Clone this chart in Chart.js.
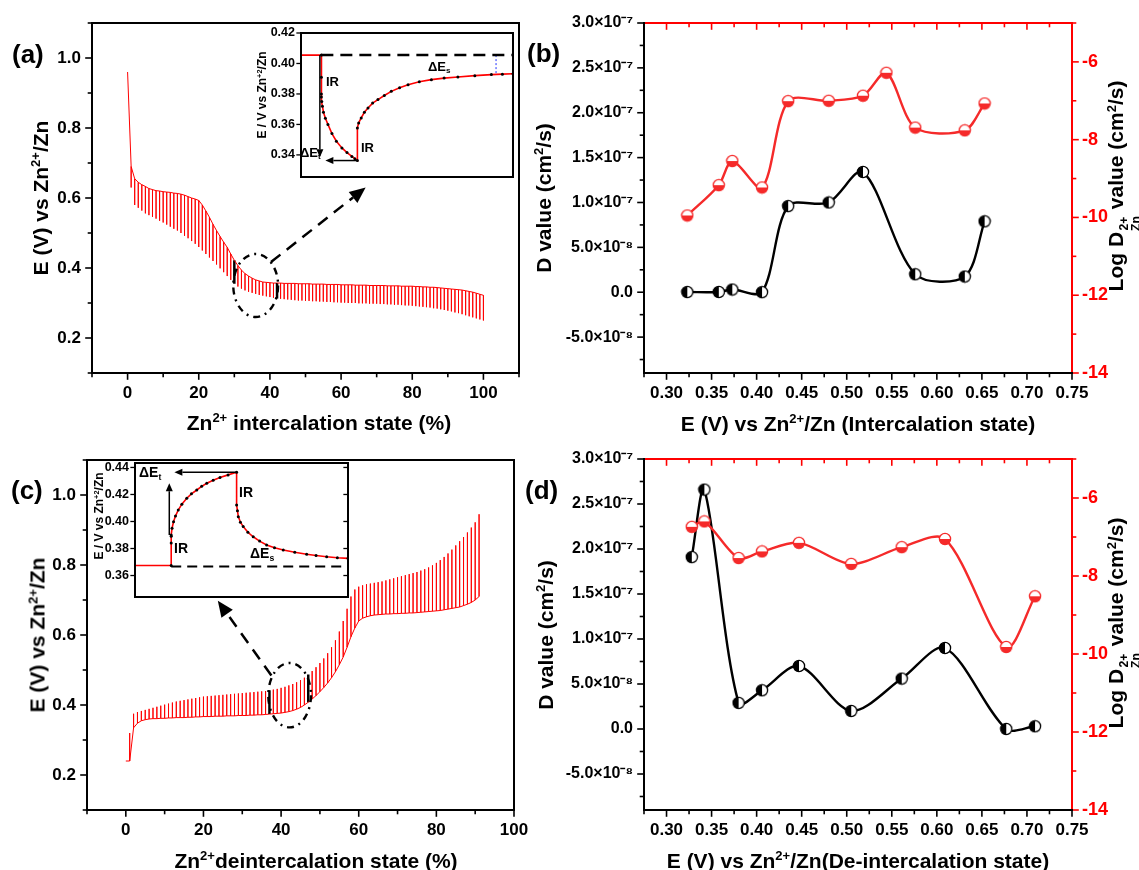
<!DOCTYPE html>
<html>
<head>
<meta charset="utf-8">
<script src="https://cdn.jsdelivr.net/npm/chart.js@4.4.1/dist/chart.umd.min.js"></script>
<style>
  body { margin:0; background:#fff; }
  #fig { position:relative; width:1139px; height:870px; overflow:hidden; background:#fff;
         font-family:"Liberation Sans", Arial, sans-serif; font-weight:bold; color:#000; }
  #fig canvas { position:absolute; }
  .t { position:absolute; white-space:nowrap; line-height:1; }
  .c { transform:translate(-50%,-50%); }
  .r { transform:translate(-50%,-50%) rotate(-90deg); }
  .t sup { font-size:62%; vertical-align:0.55em; line-height:0; }
  .t sub { font-size:62%; vertical-align:-0.3em; line-height:0; }
  .stk { display:inline-flex; flex-direction:column; align-items:center; font-size:58%;
         line-height:0.95; vertical-align:-0.45em; margin:0 1px; }
  .m { font-size:21px; } .p { font-size:26px; } .s { font-size:13px; } .s2 { font-size:14px; } .q { font-size:12px; }
</style>
</head>
<body>
<div id="fig">
  <canvas id="ca" style="left:0;top:0"     width="540" height="440"></canvas>
  <canvas id="cb" style="left:560px;top:0"   width="579" height="440"></canvas>
  <canvas id="cc" style="left:0;top:436px"   width="540" height="434"></canvas>
  <canvas id="cd" style="left:560px;top:436px" width="579" height="434"></canvas>
  <canvas id="ia" style="left:240px;top:25px"  width="285" height="160"></canvas>
  <canvas id="ic" style="left:75px;top:455px"  width="285" height="150"></canvas>

  <div class="t p" style="left:12px;top:41px">(a)</div>
  <div class="t p" style="left:527px;top:40px">(b)</div>
  <div class="t p" style="left:11px;top:477px">(c)</div>
  <div class="t p" style="left:525px;top:477px">(d)</div>

  <div class="t m r" style="left:40px;top:198px">E (V) vs Zn<sup>2+</sup>/Zn</div>
  <div class="t m c" style="left:319px;top:422px">Zn<sup>2+</sup> intercalation state (%)</div>
  <div class="t m r" style="left:543px;top:198px">D value (cm<sup>2</sup>/s)</div>
  <div class="t m r" style="left:1124px;top:186px">Log D<span class="stk"><span>2+</span><span>Zn</span></span> value (cm<sup>2</sup>/s)</div>
  <div class="t m c" style="left:858px;top:423px">E (V) vs Zn<sup>2+</sup>/Zn (Intercalation state)</div>

  <div class="t m r" style="left:37px;top:635px">E (V) vs Zn<sup>2+</sup>/Zn</div>
  <div class="t m c" style="left:316px;top:860px">Zn<sup>2+</sup>deintercalation state (%)</div>
  <div class="t m r" style="left:545px;top:635px">D value (cm<sup>2</sup>/s)</div>
  <div class="t m r" style="left:1124px;top:623px">Log D<span class="stk"><span>2+</span><span>Zn</span></span> value (cm<sup>2</sup>/s)</div>
  <div class="t m c" style="left:858px;top:860px">E (V) vs Zn<sup>2+</sup>/Zn(De-intercalation state)</div>

  <div class="t q r" style="left:262px;top:95px">E / V vs Zn<sup>+2</sup>/Zn</div>
  <div class="t s" style="left:326px;top:75px">IR</div>
  <div class="t s" style="left:361px;top:141px">IR</div>
  <div class="t s" style="left:300px;top:146px">ΔE<sub>t</sub></div>
  <div class="t s" style="left:428px;top:60px">ΔE<sub>s</sub></div>

  <div class="t q r" style="left:99px;top:516px">E / V vs Zn<sup>+2</sup>/Zn</div>
  <div class="t s2" style="left:139px;top:465px">ΔE<sub>t</sub></div>
  <div class="t s2" style="left:239px;top:485px">IR</div>
  <div class="t s2" style="left:174px;top:541px">IR</div>
  <div class="t s2" style="left:250px;top:546px">ΔE<sub>s</sub></div>
</div>

<script>
/* ────────────────────────────────────────
   DATA
──────────────────────────────────────── */
// (a) GITT intercalation: relaxed potential at each step, potential at end of each pulse
const stepA  = 1;
const relaxA = [0.96,
  0.69, 0.655, 0.645, 0.638, 0.633, 0.627, 0.624, 0.621, 0.62, 0.618,
  0.617, 0.616, 0.614, 0.613, 0.611, 0.608, 0.604, 0.6, 0.597, 0.593,
  0.58, 0.563, 0.545, 0.525, 0.507, 0.49, 0.474, 0.459, 0.44, 0.422,
  0.407, 0.394, 0.384, 0.377, 0.371, 0.366, 0.363, 0.36, 0.359, 0.358,
  0.357, 0.357, 0.357, 0.356, 0.356, 0.356, 0.356, 0.355, 0.355, 0.355,
  0.355, 0.354, 0.354, 0.354, 0.354, 0.353, 0.353, 0.353, 0.353, 0.352,
  0.352, 0.352, 0.352, 0.351, 0.351, 0.351, 0.351, 0.350, 0.350, 0.350,
  0.350, 0.350, 0.349, 0.349, 0.349, 0.349, 0.348, 0.348, 0.348, 0.348,
  0.347, 0.347, 0.346, 0.346, 0.345, 0.345, 0.344, 0.343, 0.342, 0.341,
  0.340, 0.339, 0.338, 0.337, 0.335, 0.333, 0.331, 0.328, 0.325, 0.322];
const pulseA = [
  0.63, 0.58, 0.572, 0.564, 0.556, 0.551, 0.546, 0.541, 0.535, 0.53,
  0.524, 0.518, 0.512, 0.507, 0.5, 0.492, 0.485, 0.477, 0.469, 0.46,
  0.45, 0.44, 0.43, 0.42, 0.41, 0.399, 0.388, 0.377, 0.366, 0.355,
  0.347, 0.341, 0.336, 0.332, 0.329, 0.326, 0.323, 0.321, 0.319, 0.317,
  0.315, 0.313, 0.312, 0.311, 0.310, 0.309, 0.308, 0.307, 0.307, 0.306,
  0.306, 0.305, 0.305, 0.304, 0.304, 0.303, 0.303, 0.302, 0.302, 0.301,
  0.301, 0.300, 0.300, 0.300, 0.299, 0.299, 0.299, 0.298, 0.298, 0.298,
  0.297, 0.297, 0.296, 0.296, 0.295, 0.295, 0.294, 0.293, 0.293, 0.292,
  0.291, 0.290, 0.289, 0.288, 0.287, 0.285, 0.284, 0.282, 0.280, 0.278,
  0.276, 0.273, 0.271, 0.268, 0.265, 0.262, 0.259, 0.256, 0.253, 0.250];
const markedA = [30, 42];

// (c) GITT de-intercalation
const stepC  = 1;
const relaxC = [0.24,
  0.24, 0.335, 0.348, 0.355, 0.358, 0.36, 0.361, 0.361, 0.362, 0.362,
  0.363, 0.363, 0.364, 0.364, 0.364, 0.365, 0.365, 0.366, 0.366, 0.367,
  0.367, 0.367, 0.368, 0.368, 0.368, 0.369, 0.369, 0.369, 0.370, 0.370,
  0.370, 0.371, 0.371, 0.372, 0.372, 0.373, 0.374, 0.375, 0.376, 0.377,
  0.379, 0.381, 0.384, 0.388, 0.393, 0.400, 0.408, 0.417, 0.427, 0.438,
  0.450, 0.463, 0.478, 0.495, 0.515, 0.537, 0.565, 0.595, 0.620, 0.640,
  0.648, 0.652, 0.655, 0.657, 0.658, 0.659, 0.660, 0.660, 0.661, 0.661,
  0.662, 0.662, 0.663, 0.663, 0.664, 0.665, 0.666, 0.667, 0.668, 0.669,
  0.670, 0.672, 0.674, 0.676, 0.678, 0.680, 0.684, 0.688, 0.693, 0.700, 0.710];
const pulseC = [
  0.32, 0.375, 0.38, 0.383, 0.386, 0.389, 0.392, 0.395, 0.398, 0.401,
  0.404, 0.407, 0.410, 0.412, 0.414, 0.416, 0.418, 0.420, 0.422, 0.424,
  0.425, 0.426, 0.427, 0.428, 0.429, 0.430, 0.431, 0.432, 0.433, 0.434,
  0.435, 0.436, 0.437, 0.438, 0.439, 0.440, 0.442, 0.444, 0.446, 0.449,
  0.452, 0.456, 0.460, 0.465, 0.471, 0.478, 0.487, 0.497, 0.508, 0.520,
  0.533, 0.548, 0.565, 0.585, 0.610, 0.640, 0.675, 0.710, 0.730, 0.738,
  0.742, 0.745, 0.747, 0.749, 0.751, 0.753, 0.756, 0.759, 0.762, 0.765,
  0.768, 0.771, 0.774, 0.777, 0.780, 0.784, 0.788, 0.793, 0.799, 0.806,
  0.814, 0.823, 0.833, 0.844, 0.856, 0.868, 0.880, 0.893, 0.907, 0.922, 0.945];
const markedC = [37, 47];

// insets: one titration (time in % of window, potential in V)
const insetA_t = [0, 9.6, 9.6, 9.6, 9.6, 9.8, 10.1, 10.6, 11.5, 12.7, 14.6, 16.7, 19.3, 21.7, 24.0, 25.4,
  26.6, 26.6, 27.2, 28.4, 29.9, 31.6, 33.8, 36.3, 39.3, 42.6, 46.5, 50.5, 55.8, 61.5, 67.5, 74.0, 82.0, 89.8, 95.0, 100];
const insetA_E = [0.4055, 0.4055, 0.391, 0.380, 0.378, 0.375, 0.372, 0.368, 0.364, 0.360, 0.354, 0.349, 0.3446, 0.3415, 0.339, 0.3375,
  0.3363, 0.3577, 0.361, 0.3643, 0.368, 0.3708, 0.374, 0.3763, 0.379, 0.3817, 0.384, 0.3861, 0.388, 0.3894, 0.3904, 0.3911, 0.392, 0.3927, 0.393, 0.3933];
const esA = [92, 0.3928];

const insetC_t = [0, 17.0, 17.0, 17.0, 17.0, 17.4, 18.1, 19.0, 20.3, 22.0, 24.3, 26.5, 29.0, 31.3, 33.7, 36.7, 39.9, 43.7,
  47.7, 47.7, 48.1, 48.5, 49.5, 50.8, 53.0, 55.5, 58.5, 61.8, 65.5, 69.6, 75.0, 80.6, 85.0, 90.0, 95.0, 100];
const insetC_E = [0.3674, 0.3674, 0.3840, 0.3890, 0.3900, 0.3950, 0.3999, 0.4040, 0.4085, 0.4128, 0.4172, 0.4205, 0.4233, 0.4260, 0.4283, 0.4305, 0.4325, 0.4345,
  0.4364, 0.4122, 0.4080, 0.4036, 0.3995, 0.3962, 0.3920, 0.3887, 0.3855, 0.3826, 0.3806, 0.3789, 0.3772, 0.3757, 0.3748, 0.3739, 0.3732, 0.3727];

// (b) diffusion coefficient, intercalation
const eB_D   = [0.323, 0.358, 0.373, 0.406, 0.435, 0.480, 0.518, 0.576, 0.631, 0.653];
const dB     = [2e-10, 3e-10, 3e-9, 1e-10, 9.6e-8, 1.0e-7, 1.34e-7, 2.0e-8, 1.75e-8, 7.9e-8];
const eB_log = [0.323, 0.358, 0.373, 0.406, 0.435, 0.480, 0.518, 0.544, 0.576, 0.631, 0.653];
const logB   = [-9.95, -9.17, -8.55, -9.23, -7.01, -7.0, -6.87, -6.28, -7.69, -7.76, -7.07];

// (d) diffusion coefficient, de-intercalation
const eD   = [0.328, 0.342, 0.380, 0.406, 0.447, 0.505, 0.561, 0.609, 0.677, 0.709];
const dD   = [1.91e-7, 2.66e-7, 2.9e-8, 4.3e-8, 7.0e-8, 2.0e-8, 5.6e-8, 9.0e-8, 0, 3e-9];
const logD = [-6.74, -6.6, -7.54, -7.37, -7.15, -7.69, -7.26, -7.05, -9.82, -8.52];

// tick labels
const ticksStateA = [0, 20, 40, 60, 80, 100];
const ticksE      = [0.2, 0.4, 0.6, 0.8, 1.0];
const ticksV      = [0.30, 0.35, 0.40, 0.45, 0.50, 0.55, 0.60, 0.65, 0.70, 0.75];
const ticksDval   = [-5e-8, 0, 5e-8, 1e-7, 1.5e-7, 2e-7, 2.5e-7, 3e-7];
const ticksLog    = [-14, -12, -10, -8, -6];
const ticksInA    = [0.34, 0.36, 0.38, 0.40, 0.42];
const ticksInC    = [0.36, 0.38, 0.40, 0.42, 0.44];

/* ────────────────────────────────────────
   HELPERS
──────────────────────────────────────── */
const RED  = '#ff0000';
const RED2 = '#f52a2a';
Chart.defaults.font.family = '"Liberation Sans", Arial, sans-serif';
Chart.defaults.font.weight = 'bold';
Chart.defaults.color       = '#000';
Chart.defaults.animation   = false;
Chart.defaults.plugins.legend.display  = false;
Chart.defaults.plugins.tooltip.enabled = false;

const SUP = { '-':'⁻','0':'⁰','1':'¹','2':'²','3':'³','4':'⁴','5':'⁵','6':'⁶','7':'⁷','8':'⁸','9':'⁹' };
const sci = v => {
  if (Math.abs(v) < 1e-15) return '0.0';
  const e = Math.floor(Math.log10(Math.abs(v)) + 1e-9);
  return (v / 10 ** e).toFixed(1) + '×10' + String(e).split('').map(c => SUP[c]).join('');
};

function lin(min, max, list, fmt, fit, o = {}) {
  return {
    type:'linear', min, max, bounds:'data', position:o.position, display:o.display ?? true,
    grid:{ display:false, drawTicks:false }, border:{ display:false },
    ticks:{ font:{ size:o.size || 17, weight:'bold' }, color:o.color || '#000',
            padding:o.pad ?? 10, callback:fmt, maxRotation:0, autoSkip:false },
    afterBuildTicks: s => { s.ticks = list.map(v => ({ value:v })); },
    afterFit: s => {
      if (s.isHorizontal()) { s.height = fit; s.paddingLeft = s.paddingRight = 0; }
      else                  { s.width  = fit; s.paddingTop  = s.paddingBottom = 0; }
    },
  };
}

function minorOf(major, lo, hi) {
  if (major.length < 2) return [];
  const step = major[1] - major[0], eps = Math.abs(step) * 1e-6, out = [];
  [major[0] - step, ...major].forEach(v => {
    const m = v + step / 2;
    if (m >= lo - eps && m <= hi + eps) out.push(m);
  });
  return out;
}

// frame lines + outward/inward tick marks
const axesPlugin = {
  id:'axes',
  afterDraw(chart, args, o) {
    const { ctx, chartArea:a } = chart;
    ctx.save();
    ctx.lineCap = 'square';
    (o.sides || []).forEach(sd => {
      ctx.strokeStyle = sd.color;
      const s = sd.scale ? chart.scales[sd.scale] : null;
      if (s) {
        const sign = sd.dir === 'in' ? -1 : 1;
        const mark = (v, len) => {
          const p = s.getPixelForValue(v);
          ctx.beginPath();
          if (sd.side === 'left')   { ctx.moveTo(a.left, p);   ctx.lineTo(a.left - sign * len, p); }
          if (sd.side === 'right')  { ctx.moveTo(a.right, p);  ctx.lineTo(a.right + sign * len, p); }
          if (sd.side === 'bottom') { ctx.moveTo(p, a.bottom); ctx.lineTo(p, a.bottom + sign * len); }
          if (sd.side === 'top')    { ctx.moveTo(p, a.top);    ctx.lineTo(p, a.top - sign * len); }
          ctx.stroke();
        };
        ctx.lineWidth = sd.tw || 1.6;
        const major = s.ticks.map(t => t.value);
        major.forEach(v => mark(v, sd.len || 6));
        if (sd.minor) minorOf(major, s.min, s.max).forEach(v => mark(v, 3.5));
      }
      ctx.lineWidth = sd.w || 2;
      ctx.beginPath();
      if (sd.side === 'left')   { ctx.moveTo(a.left, a.top);     ctx.lineTo(a.left, a.bottom); }
      if (sd.side === 'right')  { ctx.moveTo(a.right, a.top);    ctx.lineTo(a.right, a.bottom); }
      if (sd.side === 'bottom') { ctx.moveTo(a.left, a.bottom);  ctx.lineTo(a.right, a.bottom); }
      if (sd.side === 'top')    { ctx.moveTo(a.left, a.top);     ctx.lineTo(a.right, a.top); }
      ctx.stroke();
    });
    ctx.restore();
  },
};

function arrow(ctx, x1, y1, x2, y2, o) {
  const ang = Math.atan2(y2 - y1, x2 - x1), hl = o.head || 14, hw = o.hw || 6;
  const bx = x2 - hl * Math.cos(ang), by = y2 - hl * Math.sin(ang);
  ctx.setLineDash(o.dash || []);
  ctx.lineWidth = o.w || 2;
  ctx.beginPath(); ctx.moveTo(x1, y1); ctx.lineTo(bx, by); ctx.stroke();
  ctx.setLineDash([]);
  ctx.beginPath();
  ctx.moveTo(x2, y2);
  ctx.lineTo(bx + hw * Math.sin(ang), by - hw * Math.cos(ang));
  ctx.lineTo(bx - hw * Math.sin(ang), by + hw * Math.cos(ang));
  ctx.closePath(); ctx.fill();
}

// dashed ellipse + arrows, given in data units
const decorPlugin = {
  id:'decor',
  afterDatasetsDraw(chart, args, o) {
    const { ctx, scales:{ x, y } } = chart;
    const px = v => x.getPixelForValue(v), py = v => y.getPixelForValue(v);
    ctx.save();
    ctx.strokeStyle = '#000'; ctx.fillStyle = '#000';
    if (o.ellipse) {
      const [cx, cy, rx, ry] = o.ellipse;
      ctx.lineWidth = 2.4; ctx.setLineDash([7, 5, 2, 5]);
      ctx.beginPath();
      ctx.ellipse(px(cx), py(cy), Math.abs(px(cx + rx) - px(cx)), Math.abs(py(cy + ry) - py(cy)), 0, 0, 2 * Math.PI);
      ctx.stroke();
    }
    (o.arrows || []).forEach(a => arrow(ctx, px(a.from[0]), py(a.from[1]), px(a.to[0]), py(a.to[1]), a));
    ctx.restore();
  },
};

// relaxed curve is continuous; each titration shows as a spike to its pulse potential
function gittPoints(relax, pulse, step) {
  const pts = [{ x:0, y:relax[0] }];
  pulse.forEach((p, i) => {
    const x = (i + 1) * step;
    pts.push({ x, y:relax[i + 1] }, { x, y:p }, { x, y:relax[i + 1] });
  });
  return pts;
}

const inMarked = (c, list) => {
  const a = c.p0.parsed.x, b = c.p1.parsed.x;
  return a === b && list.some(k => Math.abs(a - k) < 1e-9);
};

function halfMarker(fill, edge, half) {
  const c = document.createElement('canvas');
  c.width = c.height = 14;
  const g = c.getContext('2d'), m = 7, r = 5.6;
  g.fillStyle = '#fff'; g.beginPath(); g.arc(m, m, r, 0, 2 * Math.PI); g.fill();
  g.fillStyle = fill; g.beginPath();
  if (half === 'left') g.arc(m, m, r, Math.PI / 2, 3 * Math.PI / 2);
  else                 g.arc(m, m, r, 0, Math.PI);
  g.closePath(); g.fill();
  g.strokeStyle = edge; g.lineWidth = 1.3;
  g.beginPath(); g.arc(m, m, r, 0, 2 * Math.PI); g.stroke();
  return c;
}
const mkBlack = halfMarker('#000', '#000', 'left');
const mkRed   = halfMarker(RED2, RED2, 'bottom');

const pairs = (xs, ys) => xs.map((x, i) => ({ x, y:ys[i] }));
const $ = id => document.getElementById(id);

/* ────────────────────────────────────────
   (a) / (c) GITT PROFILES
──────────────────────────────────────── */
function gittChart(id, relax, pulse, step, marked, xMin, xMax, fitY, fitX, pad, decor) {
  return new Chart($(id), {
    type:'scatter',
    data:{ datasets:[{
      data:gittPoints(relax, pulse, step), showLine:true, tension:0,
      borderColor:RED, borderWidth:1, pointRadius:0,
      segment:{ borderColor:c => inMarked(c, marked) ? '#000' : undefined,
                borderWidth:c => inMarked(c, marked) ? 2.5 : undefined },
    }]},
    options:{
      responsive:false, devicePixelRatio:1, layout:{ padding:pad },
      scales:{
        x:lin(xMin, xMax, ticksStateA, v => String(v), fitX, { pad:10 }),
        y:lin(0.1, 1.1, ticksE, v => v.toFixed(1), fitY, { pad:11 }),
      },
      plugins:{
        axes:{ sides:[
          { side:'top', color:'#000' }, { side:'right', color:'#000' },
          { side:'left', scale:'y', dir:'out', color:'#000', minor:true },
          { side:'bottom', scale:'x', dir:'out', color:'#000', minor:true },
        ]},
        decor,
      },
    },
    plugins:[axesPlugin, decorPlugin],
  });
}

gittChart('ca', relaxA, pulseA, stepA, markedA, -10, 110, 92, 67, { top:23, right:21 }, {
  ellipse:[36, 0.35, 6.3, 0.09],
  arrows:[{ from:[40.3, 0.417], to:[66.9, 0.63], dash:[12, 8], w:2.5, head:16, hw:7 }],
});
gittChart('cc', relaxC, pulseC, stepC, markedC, -10, 100, 87, 60, { top:24, right:26 }, {
  ellipse:[42.2, 0.428, 5.5, 0.092],
  arrows:[{ from:[37.5, 0.484], to:[23.7, 0.698], dash:[12, 8], w:2.5, head:16, hw:7 }],
});

/* ────────────────────────────────────────
   INSETS
──────────────────────────────────────── */
function insetChart(id, ts, es, yMin, yMax, ticks, fitY, extra, arrows, rightTicks) {
  const sides = [
    { side:'left', scale:'y', dir:'out', color:'#000', len:4, tw:1.3 },
    { side:'bottom', color:'#000' }, { side:'top', color:'#000' },
    rightTicks ? { side:'right', scale:'y', dir:'in', color:'#000', len:4, tw:1.3 } : { side:'right', color:'#000' },
  ];
  return new Chart($(id), {
    type:'scatter',
    data:{ datasets:[
      ...extra,
      { data:pairs(ts, es), showLine:true, tension:0, borderColor:RED, borderWidth:1.6,
        pointRadius:c => c.dataIndex === 0 ? 0 : 1.5, pointBackgroundColor:'#000', pointBorderWidth:0 },
    ]},
    options:{
      responsive:false, devicePixelRatio:1, layout:{ padding:{ top:8, right:12, bottom:8 } },
      scales:{
        x:{ type:'linear', min:0, max:100, display:false },
        y:lin(yMin, yMax, ticks, v => v.toFixed(2), fitY, { size:12.5, pad:6 }),
      },
      plugins:{ axes:{ sides }, decor:{ arrows } },
    },
    plugins:[axesPlugin, decorPlugin],
  });
}

insetChart('ia', insetA_t, insetA_E, 0.3255, 0.42, ticksInA, 61, [
  { data:[{ x:insetA_t[1], y:insetA_E[0] }, { x:100, y:insetA_E[0] }], showLine:true,
    borderColor:'#000', borderWidth:2.5, borderDash:[12, 7], pointRadius:0 },
  { data:[{ x:esA[0], y:insetA_E[0] }, { x:esA[0], y:esA[1] }], showLine:true,
    borderColor:'#2233ff', borderWidth:1, borderDash:[2, 2], pointRadius:0 },
], [
  { from:[8.9, 0.4055], to:[8.9, 0.3385], w:1.5, head:8, hw:3.5 },
  { from:[26.6, 0.3363], to:[11.5, 0.3363], w:1.5, head:8, hw:3.5 },
], false);

insetChart('ic', insetC_t, insetC_E, 0.3441, 0.4433, ticksInC, 60, [
  { data:[{ x:insetC_t[1], y:insetC_E[0] - 0.0008 }, { x:100, y:insetC_E[0] - 0.0008 }], showLine:true,
    borderColor:'#000', borderWidth:2, borderDash:[10, 6], pointRadius:0 },
], [
  { from:[16.1, 0.390], to:[16.1, 0.4283], w:1.5, head:8, hw:3.5 },
  { from:[47.7, 0.4364], to:[18.5, 0.4364], w:1.5, head:8, hw:3.5 },
], true);

/* ────────────────────────────────────────
   (b) / (d) DIFFUSION COEFFICIENTS
──────────────────────────────────────── */
function diffChart(id, xD, yD, xL, yL, fitX, padTop) {
  return new Chart($(id), {
    type:'scatter',
    data:{ datasets:[
      { data:pairs(xL, yL), yAxisID:'y1', showLine:true, tension:0.3, borderColor:RED2, borderWidth:2.4,
        pointStyle:mkRed, pointRadius:6 },
      { data:pairs(xD, yD), yAxisID:'y', showLine:true, tension:0.3, borderColor:'#000', borderWidth:2.4,
        pointStyle:mkBlack, pointRadius:6 },
    ]},
    options:{
      responsive:false, devicePixelRatio:1, layout:{ padding:{ top:padTop } },
      scales:{
        x:lin(0.275, 0.75, ticksV, v => v.toFixed(2), fitX, { pad:10 }),
        y:lin(-9e-8, 3e-7, ticksDval, sci, 84, { pad:11, size:16 }),
        y1:lin(-14, -5, ticksLog, v => String(v), 67, { position:'right', color:RED, pad:10, size:18 }),
      },
      plugins:{ axes:{ sides:[
        { side:'top', scale:'x', dir:'in', color:RED, minor:true },
        { side:'right', scale:'y1', dir:'out', color:RED, minor:true },
        { side:'left', scale:'y', dir:'out', color:'#000', minor:true },
        { side:'bottom', scale:'x', dir:'out', color:'#000', minor:true },
      ]}},
    },
    plugins:[axesPlugin],
  });
}

diffChart('cb', eB_D, dB, eB_log, logB, 67, 23);
diffChart('cd', eD, dD, eD, logD, 60, 23);
</script>
</body>
</html>
